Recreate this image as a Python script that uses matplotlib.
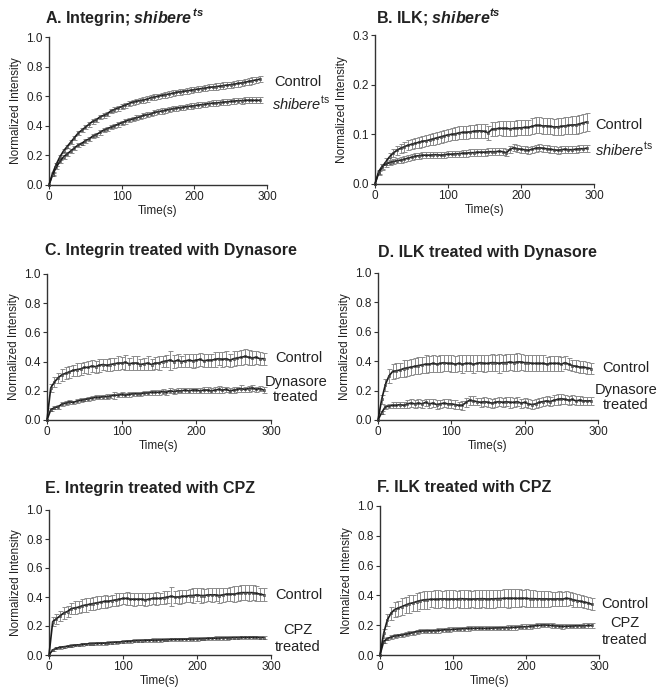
import matplotlib
matplotlib.use('Agg')
import matplotlib.pyplot as plt

# 时间轴 (s)
time_s = [0, 5, 10, 15, 20, 25, 30, 35, 40, 45,
          50, 55, 60, 65, 70, 75, 80, 85, 90, 95,
          100, 105, 110, 115, 120, 125, 130, 135, 140, 145,
          150, 155, 160, 165, 170, 175, 180, 185, 190, 195,
          200, 205, 210, 215, 220, 225, 230, 235, 240, 245,
          250, 255, 260, 265, 270, 275, 280, 285, 290]

# A. Integrin; shibere
a_ctrl = [0.00, 0.08, 0.14, 0.19, 0.23, 0.26, 0.29, 0.32, 0.35, 0.37,
          0.39, 0.41, 0.43, 0.44, 0.46, 0.47, 0.48, 0.50, 0.51, 0.52,
          0.53, 0.54, 0.55, 0.56, 0.565, 0.57, 0.575, 0.58, 0.59, 0.595,
          0.60, 0.605, 0.61, 0.615, 0.62, 0.625, 0.63, 0.632, 0.637, 0.64,
          0.645, 0.648, 0.652, 0.655, 0.66, 0.662, 0.665, 0.668, 0.672, 0.675,
          0.678, 0.682, 0.686, 0.69, 0.695, 0.70, 0.705, 0.71, 0.715]
a_ctrl_err = [0.0, 0.010, 0.012, 0.012, 0.013, 0.013, 0.014, 0.014, 0.014, 0.015,
              0.015, 0.015, 0.015, 0.016, 0.016, 0.016, 0.016, 0.016, 0.017, 0.017,
              0.017, 0.017, 0.017, 0.017, 0.018, 0.018, 0.018, 0.018, 0.018, 0.018,
              0.018, 0.019, 0.019, 0.019, 0.019, 0.019, 0.019, 0.019, 0.020, 0.020,
              0.020, 0.020, 0.020, 0.020, 0.020, 0.020, 0.021, 0.021, 0.021, 0.021,
              0.021, 0.021, 0.021, 0.022, 0.022, 0.022, 0.022, 0.022, 0.022]
a_shi = [0.00, 0.07, 0.12, 0.16, 0.19, 0.21, 0.23, 0.25, 0.27, 0.28,
         0.30, 0.31, 0.33, 0.34, 0.355, 0.37, 0.38, 0.39, 0.40, 0.41,
         0.42, 0.43, 0.44, 0.445, 0.455, 0.46, 0.47, 0.475, 0.48, 0.49,
         0.495, 0.50, 0.505, 0.51, 0.515, 0.52, 0.522, 0.526, 0.53, 0.533,
         0.536, 0.54, 0.543, 0.546, 0.55, 0.553, 0.555, 0.557, 0.56, 0.562,
         0.565, 0.567, 0.57, 0.57, 0.572, 0.573, 0.572, 0.572, 0.572]
a_shi_err = [0.0, 0.008, 0.010, 0.010, 0.011, 0.011, 0.012, 0.012, 0.012, 0.013,
             0.013, 0.013, 0.013, 0.014, 0.014, 0.014, 0.014, 0.014, 0.015, 0.015,
             0.015, 0.015, 0.015, 0.015, 0.016, 0.016, 0.016, 0.016, 0.016, 0.016,
             0.016, 0.017, 0.017, 0.017, 0.017, 0.017, 0.017, 0.017, 0.018, 0.018,
             0.018, 0.018, 0.018, 0.018, 0.018, 0.018, 0.019, 0.019, 0.019, 0.019,
             0.019, 0.019, 0.019, 0.020, 0.020, 0.020, 0.020, 0.020, 0.020]

# B. ILK; shibere
b_ctrl = [0.000, 0.022, 0.035, 0.045, 0.055, 0.062, 0.068, 0.072, 0.075, 0.078,
          0.080, 0.082, 0.084, 0.086, 0.087, 0.089, 0.091, 0.093, 0.095, 0.097,
          0.099, 0.100, 0.101, 0.103, 0.104, 0.104, 0.105, 0.106, 0.107, 0.107,
          0.106, 0.103, 0.110, 0.111, 0.112, 0.112, 0.112, 0.111, 0.112, 0.113,
          0.113, 0.114, 0.114, 0.116, 0.118, 0.118, 0.117, 0.117, 0.116, 0.115,
          0.115, 0.116, 0.117, 0.118, 0.119, 0.119, 0.121, 0.123, 0.125]
b_ctrl_err = [0.0, 0.004, 0.006, 0.007, 0.008, 0.008, 0.009, 0.009, 0.010, 0.010,
              0.010, 0.010, 0.011, 0.011, 0.011, 0.011, 0.012, 0.012, 0.012, 0.012,
              0.012, 0.012, 0.013, 0.013, 0.013, 0.013, 0.013, 0.013, 0.014, 0.014,
              0.014, 0.014, 0.014, 0.014, 0.014, 0.015, 0.015, 0.015, 0.015, 0.015,
              0.015, 0.015, 0.015, 0.016, 0.016, 0.016, 0.016, 0.016, 0.016, 0.016,
              0.017, 0.017, 0.017, 0.017, 0.018, 0.018, 0.018, 0.018, 0.018]
b_shi = [0.000, 0.025, 0.036, 0.040, 0.043, 0.045, 0.047, 0.048, 0.050, 0.052,
         0.054, 0.056, 0.057, 0.058, 0.058, 0.058, 0.059, 0.059, 0.058, 0.059,
         0.060, 0.060, 0.061, 0.061, 0.062, 0.062, 0.063, 0.063, 0.064, 0.064,
         0.064, 0.065, 0.065, 0.065, 0.066, 0.065, 0.063, 0.070, 0.073, 0.071,
         0.070, 0.069, 0.068, 0.070, 0.072, 0.073, 0.072, 0.071, 0.070, 0.069,
         0.068, 0.069, 0.070, 0.069, 0.069, 0.070, 0.071, 0.071, 0.072]
b_shi_err = [0.0, 0.004, 0.005, 0.005, 0.005, 0.005, 0.005, 0.006, 0.006, 0.006,
             0.006, 0.006, 0.006, 0.006, 0.006, 0.006, 0.006, 0.006, 0.006, 0.006,
             0.006, 0.006, 0.006, 0.006, 0.007, 0.007, 0.007, 0.007, 0.007, 0.007,
             0.007, 0.007, 0.007, 0.007, 0.007, 0.007, 0.007, 0.007, 0.007, 0.007,
             0.007, 0.007, 0.007, 0.007, 0.007, 0.007, 0.007, 0.007, 0.007, 0.007,
             0.007, 0.007, 0.007, 0.007, 0.007, 0.007, 0.007, 0.007, 0.007]

# C. Integrin + Dynasore
c_ctrl = [0.00, 0.22, 0.26, 0.29, 0.31, 0.32, 0.33, 0.34, 0.345, 0.35,
          0.36, 0.36, 0.37, 0.365, 0.375, 0.38, 0.375, 0.38, 0.385, 0.39,
          0.39, 0.395, 0.385, 0.39, 0.39, 0.38, 0.385, 0.39, 0.38, 0.39,
          0.39, 0.40, 0.405, 0.41, 0.40, 0.41, 0.40, 0.405, 0.41, 0.405,
          0.41, 0.415, 0.405, 0.41, 0.41, 0.415, 0.42, 0.415, 0.42, 0.41,
          0.42, 0.425, 0.43, 0.435, 0.43, 0.425, 0.43, 0.42, 0.42]
c_ctrl_err = [0.0, 0.03, 0.035, 0.035, 0.04, 0.04, 0.04, 0.04, 0.045, 0.04,
              0.04, 0.045, 0.04, 0.04, 0.045, 0.04, 0.04, 0.045, 0.04, 0.045,
              0.04, 0.05, 0.04, 0.045, 0.045, 0.04, 0.04, 0.045, 0.04, 0.04,
              0.045, 0.04, 0.04, 0.065, 0.045, 0.045, 0.04, 0.045, 0.045, 0.05,
              0.045, 0.045, 0.045, 0.045, 0.045, 0.05, 0.045, 0.05, 0.05, 0.045,
              0.05, 0.045, 0.05, 0.05, 0.05, 0.05, 0.045, 0.045, 0.04]
c_dyn = [0.00, 0.07, 0.085, 0.09, 0.11, 0.115, 0.125, 0.12, 0.13, 0.135,
         0.14, 0.145, 0.15, 0.155, 0.155, 0.16, 0.16, 0.165, 0.17, 0.17,
         0.175, 0.17, 0.175, 0.18, 0.18, 0.18, 0.185, 0.185, 0.19, 0.19,
         0.19, 0.195, 0.19, 0.20, 0.195, 0.20, 0.20, 0.205, 0.20, 0.205,
         0.205, 0.20, 0.205, 0.205, 0.20, 0.205, 0.21, 0.205, 0.21, 0.20,
         0.205, 0.21, 0.215, 0.21, 0.215, 0.22, 0.21, 0.215, 0.205]
c_dyn_err = [0.0, 0.010, 0.012, 0.012, 0.015, 0.012, 0.012, 0.012, 0.013, 0.013,
             0.013, 0.013, 0.014, 0.014, 0.014, 0.014, 0.015, 0.015, 0.025, 0.015,
             0.015, 0.015, 0.015, 0.015, 0.015, 0.015, 0.016, 0.016, 0.016, 0.016,
             0.016, 0.016, 0.016, 0.016, 0.017, 0.017, 0.017, 0.017, 0.017, 0.017,
             0.017, 0.017, 0.018, 0.018, 0.018, 0.018, 0.022, 0.018, 0.018, 0.018,
             0.018, 0.018, 0.022, 0.018, 0.020, 0.020, 0.018, 0.018, 0.018]

# D. ILK + Dynasore
d_ctrl = [0.00, 0.14, 0.24, 0.30, 0.33, 0.335, 0.34, 0.35, 0.355, 0.36,
          0.365, 0.37, 0.375, 0.38, 0.38, 0.385, 0.38, 0.385, 0.39, 0.385,
          0.385, 0.38, 0.385, 0.38, 0.385, 0.385, 0.38, 0.385, 0.39, 0.385,
          0.385, 0.39, 0.39, 0.385, 0.39, 0.39, 0.395, 0.39, 0.395, 0.395,
          0.39, 0.39, 0.385, 0.385, 0.385, 0.385, 0.38, 0.385, 0.385, 0.385,
          0.38, 0.39, 0.38, 0.37, 0.365, 0.36, 0.36, 0.355, 0.35]
d_ctrl_err = [0.0, 0.03, 0.04, 0.045, 0.05, 0.05, 0.05, 0.055, 0.055, 0.055,
              0.055, 0.06, 0.055, 0.06, 0.055, 0.06, 0.055, 0.06, 0.055, 0.055,
              0.06, 0.055, 0.055, 0.06, 0.055, 0.055, 0.06, 0.055, 0.055, 0.06,
              0.055, 0.06, 0.055, 0.065, 0.055, 0.06, 0.055, 0.06, 0.06, 0.055,
              0.055, 0.055, 0.055, 0.055, 0.055, 0.055, 0.05, 0.05, 0.05, 0.05,
              0.05, 0.045, 0.04, 0.04, 0.04, 0.04, 0.04, 0.04, 0.04]
d_dyn = [0.00, 0.05, 0.09, 0.095, 0.10, 0.10, 0.105, 0.10, 0.11, 0.115,
         0.11, 0.115, 0.11, 0.12, 0.11, 0.115, 0.105, 0.11, 0.115, 0.11,
         0.11, 0.105, 0.10, 0.10, 0.12, 0.135, 0.13, 0.125, 0.12, 0.125,
         0.12, 0.115, 0.12, 0.125, 0.12, 0.125, 0.12, 0.12, 0.125, 0.115,
         0.12, 0.11, 0.105, 0.11, 0.12, 0.125, 0.13, 0.125, 0.135, 0.14,
         0.145, 0.14, 0.135, 0.14, 0.13, 0.135, 0.13, 0.13, 0.13]
d_dyn_err = [0.0, 0.010, 0.015, 0.015, 0.02, 0.02, 0.02, 0.02, 0.025, 0.025,
             0.025, 0.025, 0.025, 0.025, 0.03, 0.025, 0.03, 0.025, 0.025, 0.03,
             0.025, 0.03, 0.025, 0.03, 0.03, 0.03, 0.03, 0.025, 0.03, 0.03,
             0.03, 0.03, 0.03, 0.03, 0.03, 0.03, 0.035, 0.03, 0.03, 0.03,
             0.03, 0.03, 0.03, 0.03, 0.03, 0.03, 0.03, 0.03, 0.035, 0.035,
             0.035, 0.03, 0.03, 0.03, 0.03, 0.03, 0.025, 0.025, 0.025]

# E. Integrin + CPZ
e_ctrl = [0.00, 0.23, 0.25, 0.27, 0.29, 0.30, 0.32, 0.325, 0.33, 0.34,
          0.345, 0.35, 0.355, 0.36, 0.365, 0.37, 0.37, 0.375, 0.38, 0.385,
          0.39, 0.39, 0.385, 0.385, 0.385, 0.385, 0.38, 0.385, 0.39, 0.39,
          0.39, 0.395, 0.40, 0.405, 0.40, 0.40, 0.405, 0.405, 0.41, 0.41,
          0.415, 0.41, 0.41, 0.415, 0.415, 0.415, 0.41, 0.415, 0.42, 0.42,
          0.42, 0.425, 0.43, 0.43, 0.43, 0.43, 0.425, 0.42, 0.415]
e_ctrl_err = [0.0, 0.03, 0.035, 0.035, 0.04, 0.04, 0.04, 0.045, 0.04, 0.045,
              0.045, 0.04, 0.045, 0.045, 0.04, 0.045, 0.04, 0.04, 0.045, 0.04,
              0.04, 0.045, 0.04, 0.045, 0.04, 0.04, 0.045, 0.04, 0.04, 0.045,
              0.04, 0.045, 0.04, 0.065, 0.04, 0.045, 0.045, 0.04, 0.045, 0.05,
              0.045, 0.05, 0.045, 0.045, 0.05, 0.045, 0.05, 0.05, 0.045, 0.05,
              0.055, 0.05, 0.05, 0.05, 0.055, 0.05, 0.05, 0.045, 0.045]
e_cpz = [0.000, 0.035, 0.046, 0.052, 0.057, 0.060, 0.064, 0.068, 0.070, 0.073,
         0.076, 0.078, 0.079, 0.080, 0.081, 0.082, 0.084, 0.086, 0.088, 0.090,
         0.092, 0.094, 0.096, 0.098, 0.099, 0.100, 0.101, 0.102, 0.103, 0.103,
         0.104, 0.105, 0.106, 0.107, 0.108, 0.108, 0.109, 0.109, 0.110, 0.110,
         0.111, 0.112, 0.113, 0.114, 0.115, 0.116, 0.117, 0.118, 0.118, 0.119,
         0.120, 0.120, 0.121, 0.121, 0.121, 0.122, 0.121, 0.120, 0.120]
e_cpz_err = [0.0, 0.006, 0.007, 0.008, 0.008, 0.008, 0.009, 0.009, 0.009, 0.009,
             0.010, 0.010, 0.010, 0.010, 0.010, 0.010, 0.010, 0.010, 0.010, 0.010,
             0.010, 0.010, 0.010, 0.010, 0.010, 0.011, 0.011, 0.011, 0.011, 0.011,
             0.011, 0.011, 0.011, 0.011, 0.011, 0.011, 0.011, 0.011, 0.011, 0.011,
             0.011, 0.011, 0.011, 0.011, 0.011, 0.012, 0.012, 0.012, 0.012, 0.012,
             0.012, 0.012, 0.012, 0.012, 0.012, 0.012, 0.012, 0.012, 0.012]

# F. ILK + CPZ
f_ctrl = [0.000, 0.145, 0.235, 0.280, 0.305, 0.315, 0.325, 0.335, 0.345, 0.350,
          0.358, 0.365, 0.370, 0.372, 0.374, 0.374, 0.375, 0.377, 0.376, 0.375,
          0.376, 0.375, 0.378, 0.377, 0.376, 0.375, 0.376, 0.377, 0.378, 0.376,
          0.376, 0.377, 0.378, 0.379, 0.380, 0.381, 0.381, 0.380, 0.380, 0.381,
          0.380, 0.378, 0.378, 0.377, 0.377, 0.377, 0.376, 0.376, 0.376, 0.377,
          0.376, 0.380, 0.378, 0.370, 0.365, 0.360, 0.355, 0.350, 0.340]
f_ctrl_err = [0.0, 0.03, 0.04, 0.045, 0.05, 0.05, 0.055, 0.055, 0.06, 0.055,
              0.06, 0.055, 0.06, 0.06, 0.055, 0.06, 0.06, 0.055, 0.06, 0.06,
              0.06, 0.055, 0.06, 0.06, 0.06, 0.055, 0.06, 0.06, 0.055, 0.06,
              0.06, 0.06, 0.055, 0.06, 0.06, 0.065, 0.06, 0.06, 0.06, 0.055,
              0.06, 0.055, 0.055, 0.055, 0.055, 0.055, 0.055, 0.05, 0.05, 0.05,
              0.05, 0.05, 0.045, 0.045, 0.045, 0.04, 0.04, 0.04, 0.04]
f_cpz = [0.000, 0.090, 0.110, 0.120, 0.128, 0.131, 0.134, 0.140, 0.145, 0.150,
         0.157, 0.160, 0.162, 0.163, 0.162, 0.163, 0.165, 0.168, 0.170, 0.171,
         0.172, 0.174, 0.176, 0.177, 0.178, 0.179, 0.179, 0.180, 0.179, 0.179,
         0.180, 0.181, 0.182, 0.183, 0.183, 0.184, 0.185, 0.186, 0.188, 0.190,
         0.190, 0.192, 0.195, 0.198, 0.200, 0.202, 0.200, 0.198, 0.196, 0.194,
         0.192, 0.193, 0.194, 0.195, 0.196, 0.196, 0.197, 0.198, 0.198]
f_cpz_err = [0.0, 0.010, 0.012, 0.012, 0.012, 0.012, 0.013, 0.013, 0.013, 0.013,
             0.013, 0.013, 0.013, 0.013, 0.014, 0.014, 0.014, 0.014, 0.014, 0.014,
             0.014, 0.014, 0.014, 0.014, 0.014, 0.014, 0.014, 0.014, 0.014, 0.014,
             0.014, 0.014, 0.014, 0.014, 0.014, 0.015, 0.015, 0.015, 0.015, 0.015,
             0.015, 0.015, 0.015, 0.015, 0.015, 0.015, 0.015, 0.015, 0.015, 0.015,
             0.015, 0.015, 0.015, 0.015, 0.015, 0.015, 0.015, 0.015, 0.015]

plt.rcParams['font.family'] = ['Liberation Sans', 'DejaVu Sans']
plt.rcParams['mathtext.fontset'] = 'custom'
plt.rcParams['mathtext.rm'] = 'Liberation Sans'
plt.rcParams['mathtext.it'] = 'Liberation Sans:italic'
plt.rcParams['mathtext.bf'] = 'Liberation Sans:bold'
plt.rcParams['mathtext.bfit'] = 'Liberation Sans:italic:bold'

W, H = 657, 688
fig = plt.figure(figsize=(W / 100, H / 100), dpi=100)
ink = '#222222'


def px_rect(left, top, right, bottom):
    # 像素坐标 -> figure 坐标
    return [left / W, 1 - bottom / H, (right - left) / W, (bottom - top) / H]


def panel(rect, series, ymax, yticks, ylabels):
    ax = fig.add_axes(rect)
    for y, e in series:
        # 误差棒在下，曲线在上
        ax.errorbar(time_s, y, yerr=e, fmt='none', ecolor='#8c8c8c',
                    elinewidth=0.7, capsize=1.8, capthick=0.7, zorder=2)
        ax.plot(time_s, y, color='#1a1a1a', lw=1.2, marker='s', ms=1.6,
                mfc='none', mec='#444444', mew=0.5, zorder=3, clip_on=False)
    ax.set_xlim(0, 300)
    ax.set_ylim(0, ymax)
    ax.set_xticks([0, 100, 200, 300])
    ax.set_yticks(yticks)
    ax.set_yticklabels(ylabels)
    for s in ('top', 'right'):
        ax.spines[s].set_visible(False)
    for s in ('left', 'bottom'):
        ax.spines[s].set_color('#333333')
        ax.spines[s].set_linewidth(1.0)
    ax.tick_params(direction='out', length=3, width=0.8, colors='#333333',
                   labelsize=8.5, labelcolor=ink, pad=1.5)
    ax.set_xlabel('Time(s)', fontsize=8.5, color=ink, labelpad=1)
    ax.set_ylabel('Normalized Intensity', fontsize=8.5, color=ink, labelpad=3)
    return ax


y10 = [0.0, 0.2, 0.4, 0.6, 0.8, 1.0]
y10_lab = ['0.0', '0.2', '0.4', '0.6', '0.8', '1.0']

panel(px_rect(49, 37, 267, 185), [(a_ctrl, a_ctrl_err), (a_shi, a_shi_err)],
      1.0, y10, y10_lab)
panel(px_rect(375, 35, 594, 184), [(b_ctrl, b_ctrl_err), (b_shi, b_shi_err)],
      0.3, [0.0, 0.1, 0.2, 0.3], ['0.0', '0.1', '0.2', '0.3'])
panel(px_rect(47, 274, 271, 420), [(c_ctrl, c_ctrl_err), (c_dyn, c_dyn_err)],
      1.0, y10, y10_lab)
panel(px_rect(378, 273, 598, 420), [(d_ctrl, d_ctrl_err), (d_dyn, d_dyn_err)],
      1.0, y10, y10_lab)
panel(px_rect(49, 510, 271, 655), [(e_ctrl, e_ctrl_err), (e_cpz, e_cpz_err)],
      1.0, y10, y10_lab)
panel(px_rect(380, 506, 599, 655), [(f_ctrl, f_ctrl_err), (f_cpz, f_cpz_err)],
      1.0, y10, y10_lab)


def ftext(x, y, s, **kw):
    kw.setdefault('color', ink)
    fig.text(x / W, 1 - y / H, s, va='center', **kw)


# 标题
tkw = dict(fontsize=11.5, fontweight='bold')
ftext(45, 17, r'A. Integrin; $\mathbfit{shibere}^{\,\mathbfit{ts}}$', **tkw)
ftext(376, 17, r'B. ILK; $\mathbfit{shibere}^{\mathbfit{ts}}$', **tkw)
ftext(45, 250, 'C. Integrin treated with Dynasore', **tkw)
ftext(378, 252, 'D. ILK treated with Dynasore', **tkw)
ftext(45, 488, 'E. Integrin treated with CPZ', **tkw)
ftext(377, 488, 'F. ILK treated with CPZ', **tkw)

# 曲线标注
lkw = dict(fontsize=10.5)
ftext(274, 82, 'Control', **lkw)
ftext(272, 104, r'$\mathit{shibere}^{\mathrm{ts}}$', **lkw)
ftext(595, 125, 'Control', **lkw)
ftext(595, 150, r'$\mathit{shibere}^{\mathrm{ts}}$', **lkw)
ftext(275, 358, 'Control', **lkw)
ftext(296, 382, 'Dynasore', ha='center', **lkw)
ftext(296, 397, 'treated', ha='center', **lkw)
ftext(602, 368, 'Control', **lkw)
ftext(626, 390, 'Dynasore', ha='center', **lkw)
ftext(626, 405, 'treated', ha='center', **lkw)
ftext(275, 595, 'Control', **lkw)
ftext(298, 630, 'CPZ', ha='center', **lkw)
ftext(298, 647, 'treated', ha='center', **lkw)
ftext(625, 604, 'Control', ha='center', **lkw)
ftext(625, 623, 'CPZ', ha='center', **lkw)
ftext(625, 640, 'treated', ha='center', **lkw)

fig.savefig('out.png', dpi=100)
